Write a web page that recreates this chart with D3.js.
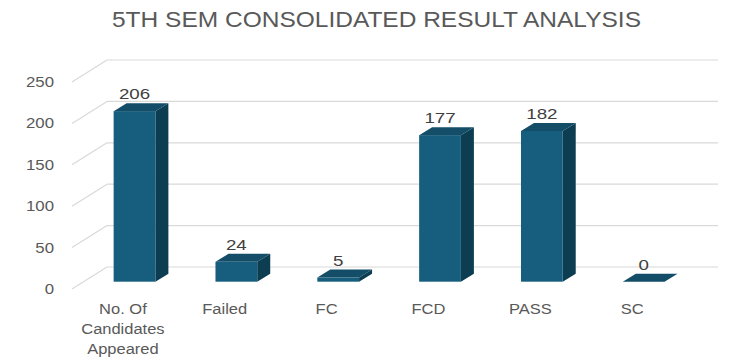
<!DOCTYPE html>
<html>
<head>
<meta charset="utf-8">
<script src="https://cdn.jsdelivr.net/npm/d3@7"></script>
<style>
  body { margin: 0; background: #fff; }
  svg { display: block; font-family: "Liberation Sans", Arial, sans-serif; }
</style>
</head>
<body>
<svg id="chart" width="750" height="364"></svg>
<script>
// data
const categories = ['No. Of Candidates Appeared', 'Failed', 'FC', 'FCD', 'PASS', 'SC'];
const categoryLines = [['No. Of', 'Candidates', 'Appeared'], ['Failed'], ['FC'], ['FCD'], ['PASS'], ['SC']];
const values = [206, 24, 5, 177, 182, 0];
const yTicks = [0, 50, 100, 150, 200, 250];
const title = '5TH SEM CONSOLIDATED RESULT ANALYSIS';

const svg = d3.select('#chart');
const textColor = '#595959';
const gridColor = '#d9d9d9';

// 3d floor: front edge at y=289, back wall shifted by (depthX, depthY)
const floorY = 289;
const floorLeft = 72, floorRight = 683;
const depthX = 35, depthY = -22;

// bars sit inside the depth
const barOffX = 11.6, barOffY = -7.3;
const barDepthX = 13, barDepthY = -8;

const x = d3.scaleBand()
  .domain(categories)
  .range([floorLeft, floorRight])
  .paddingInner(0.59)
  .paddingOuter(0.295);

const y = d3.scaleLinear()
  .domain([0, 250])
  .range([0, 207]);

// title
svg.append('text')
  .attr('x', 112)
  .attr('y', 27)
  .attr('textLength', 529)
  .attr('lengthAdjust', 'spacingAndGlyphs')
  .attr('font-size', 22)
  .attr('fill', textColor)
  .text(title);

// back wall gridlines + left wall diagonals
const grid = svg.append('g').attr('class', 'grid');
yTicks.forEach(t => {
  const yFront = floorY - y(t);
  grid.append('line')
    .attr('x1', floorLeft + depthX).attr('x2', floorRight + depthX)
    .attr('y1', yFront + depthY).attr('y2', yFront + depthY)
    .attr('stroke', gridColor).attr('stroke-width', 1.2);
  grid.append('line')
    .attr('x1', floorLeft).attr('y1', yFront)
    .attr('x2', floorLeft + depthX).attr('y2', yFront + depthY)
    .attr('stroke', gridColor).attr('stroke-width', 1.2);
});

// y axis labels
svg.append('g')
  .selectAll('text')
  .data(yTicks)
  .join('text')
  .attr('transform', d => `translate(54, ${floorY - y(d) + 5}) scale(1.12, 1)`)
  .attr('text-anchor', 'end')
  .attr('font-size', 15)
  .attr('fill', textColor)
  .text(d => d);

// bars
const bw = x.bandwidth();
const bars = svg.append('g')
  .selectAll('g')
  .data(categories.map((c, i) => ({ c, v: values[i] })))
  .join('g');

bars.each(function(d) {
  const g = d3.select(this);
  const x0 = x(d.c) + barOffX;
  const base = floorY + barOffY;
  const h = y(d.v);
  const top = base - h;
  g.append('polygon')
    .attr('points', [
      [x0 + bw, base], [x0 + bw + barDepthX, base + barDepthY],
      [x0 + bw + barDepthX, top + barDepthY], [x0 + bw, top]
    ].join(' '))
    .attr('fill', '#0d3d51');
  g.append('rect')
    .attr('x', x0).attr('y', top)
    .attr('width', bw).attr('height', h)
    .attr('fill', '#175e7e');
  g.append('polygon')
    .attr('points', [
      [x0, top], [x0 + barDepthX, top + barDepthY],
      [x0 + bw + barDepthX, top + barDepthY], [x0 + bw, top]
    ].join(' '))
    .attr('fill', '#134d68');
  g.append('text')
    .attr('transform', `translate(${x0 + bw / 2}, ${top + barDepthY - 4}) scale(1.25, 1)`)
    .attr('text-anchor', 'middle')
    .attr('font-size', 15)
    .attr('fill', '#404040')
    .text(d.v);
});

// category labels on the front floor edge
svg.append('g')
  .selectAll('g')
  .data(categories.map((c, i) => ({ c, lines: categoryLines[i] })))
  .join('g')
  .each(function(d) {
    const cx = x(d.c) + bw / 2;
    d3.select(this).selectAll('text')
      .data(d.lines)
      .join('text')
      .attr('transform', (t, i) => `translate(${cx}, ${314 + i * 20}) scale(1.1, 1)`)
      .attr('text-anchor', 'middle')
      .attr('font-size', 15)
      .attr('fill', textColor)
      .text(t => t);
  });
</script>
</body>
</html>
